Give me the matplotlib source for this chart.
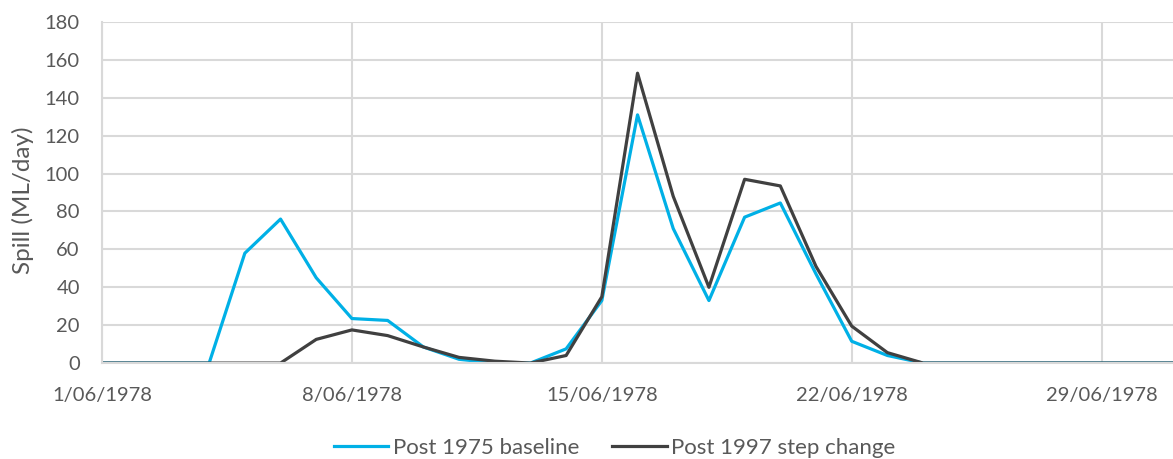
import pandas as pd
import matplotlib.pyplot as plt
import matplotlib.dates as mdates

# Daily spill, June 1978 (ML/day)
dates = pd.date_range('1978-06-01', '1978-07-01', freq='D')
baseline_1975 = [0, 0, 0, 0, 58, 76, 45, 23.5, 22.5, 8.5, 2, 0, 0, 7.5, 33,
                 131, 71, 33, 77, 84.5, 47, 11.5, 4, 0, 0, 0, 0, 0, 0, 0, 0]
step_1997 = [0, 0, 0, 0, 0, 0, 12.5, 17.5, 14.5, 8.5, 3, 1, 0, 4, 35,
             153, 88, 40, 97, 93.5, 51, 19.5, 5.5, 0, 0, 0, 0, 0, 0, 0, 0]
tick_dates = pd.date_range('1978-06-01', '1978-06-29', freq='7D')

plt.rcParams['font.family'] = ['Lato', 'DejaVu Sans']
text_col = '#595959'
grid_col = '#d9d9d9'
fs = 14.5

fig = plt.figure(figsize=(11.73, 4.59), dpi=100)
ax = fig.add_axes([0.087, 0.209, 0.913, 0.743])

ax.plot(dates, baseline_1975, color='#00b0e6', lw=2.3, label='Post 1975 baseline')
ax.plot(dates, step_1997, color='#404040', lw=2.3, label='Post 1997 step change')

ax.set_xlim(dates[0], dates[-1])
ax.set_ylim(0, 180)
ax.set_yticks(range(0, 181, 20))
ax.set_xticks(tick_dates)
ax.xaxis.set_major_formatter(mdates.DateFormatter('%-d/%m/%Y'))

ax.grid(True, color=grid_col, lw=1.5)
ax.set_axisbelow(True)
for s in ['top', 'right']:
    ax.spines[s].set_visible(False)
for s in ['left', 'bottom']:
    ax.spines[s].set_color(grid_col)
    ax.spines[s].set_linewidth(1.5)
ax.tick_params(length=0, labelsize=fs, colors=text_col)
ax.tick_params(axis='x', pad=17)
ax.tick_params(axis='y', pad=16)

# axis title, placed by hand at the left edge
fig.text(23 / 1173, 0.564, 'Spill (ML/day)', rotation=90, ha='center', va='center',
         fontsize=17.5, color=text_col)

fig.legend(loc='center', bbox_to_anchor=(0.524, 0.024), ncol=2, frameon=False,
           fontsize=16, labelcolor=text_col, handlelength=2.45, handletextpad=0.2,
           columnspacing=1.5, borderpad=0)

fig.savefig('out.png', dpi=100)
